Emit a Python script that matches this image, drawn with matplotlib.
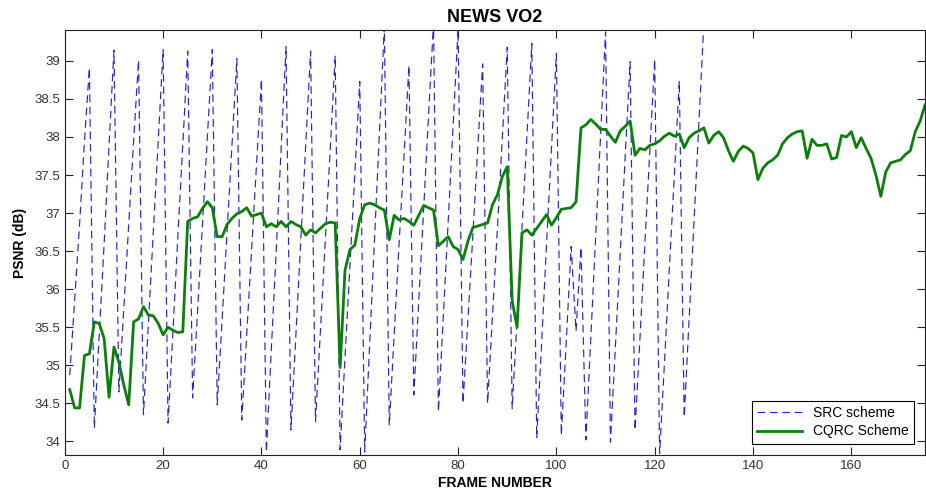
import matplotlib
matplotlib.use('Agg')
import matplotlib.pyplot as plt
from matplotlib.ticker import FormatStrFormatter, MultipleLocator
import numpy as np

plt.rcParams['font.family'] = ['Liberation Sans', 'DejaVu Sans']

# SRC scheme, frames 1..130 (5-frame cycles)
src_frames = np.arange(1, 131)
src_psnr = [
    34.87, 35.85, 36.85, 37.95, 38.91,
    34.17, 35.40, 36.60, 37.90, 39.14,
    34.65, 35.75, 36.85, 37.95, 39.01,
    34.35, 35.55, 36.75, 37.95, 39.15,
    34.24, 35.45, 36.70, 37.90, 39.13,
    34.57, 35.70, 36.85, 38.00, 39.15,
    34.48, 35.60, 36.75, 37.90, 39.03,
    34.28, 35.40, 36.50, 37.65, 38.76,
    33.86, 35.20, 36.50, 37.85, 39.19,
    34.15, 35.40, 36.65, 37.90, 39.13,
    34.26, 35.45, 36.65, 37.85, 39.07,
    33.89, 35.10, 36.30, 37.50, 38.73,
    33.86, 35.25, 36.65, 38.05, 39.45,
    34.21, 35.40, 36.60, 37.75, 38.94,
    34.61, 35.85, 37.05, 38.30, 39.50,
    34.39, 35.65, 36.90, 38.15, 39.42,
    34.50, 35.60, 36.70, 37.85, 38.96,
    34.50, 35.65, 36.80, 38.00, 39.18,
    34.43, 35.60, 36.80, 38.00, 39.23,
    34.04, 35.30, 36.60, 37.85, 39.10,
    34.08, 35.30, 36.56, 35.45, 36.55,
    34.02, 35.35, 36.70, 38.05, 39.38,
    33.99, 35.25, 36.50, 37.75, 38.99,
    34.15, 35.35, 36.60, 37.80, 39.02,
    33.84, 35.05, 36.30, 37.50, 38.74,
    34.32, 35.60, 36.90, 38.20, 39.50,
]

# CQRC scheme, frames 1..175
cqrc_frames = np.arange(1, 176)
cqrc_psnr = [
    34.68, 34.44, 34.44, 35.13, 35.15, 35.57, 35.55, 35.35, 34.58, 35.24,
    35.04, 34.74, 34.48, 35.57, 35.61, 35.77, 35.66, 35.65, 35.55, 35.40,
    35.50, 35.46, 35.43, 35.44, 36.89, 36.93, 36.95, 37.06, 37.15, 37.07,
    36.69, 36.69, 36.85, 36.93, 36.99, 37.02, 37.07, 36.96, 36.98, 37.00,
    36.82, 36.86, 36.82, 36.89, 36.82, 36.89, 36.85, 36.82, 36.71, 36.78,
    36.74, 36.80, 36.86, 36.88, 36.87, 34.97, 36.25, 36.52, 36.58, 36.93,
    37.11, 37.13, 37.11, 37.07, 37.04, 36.65, 36.97, 36.91, 36.93, 36.89,
    36.84, 36.97, 37.10, 37.07, 37.04, 36.57, 36.63, 36.69, 36.56, 36.52,
    36.39, 36.63, 36.81, 36.83, 36.85, 36.87, 37.11, 37.24, 37.48, 37.61,
    35.85, 35.50, 36.74, 36.78, 36.71, 36.80, 36.89, 36.98, 36.84, 36.94,
    37.05, 37.06, 37.07, 37.15, 38.12, 38.16, 38.23, 38.17, 38.10, 38.10,
    38.01, 37.93, 38.08, 38.14, 38.21, 37.76, 37.85, 37.83, 37.89, 37.91,
    37.95, 38.01, 38.05, 38.01, 38.04, 37.86, 37.99, 38.05, 38.08, 38.12,
    37.92, 38.02, 38.07, 37.99, 37.82, 37.68, 37.81, 37.88, 37.85, 37.79,
    37.44, 37.59, 37.66, 37.70, 37.76, 37.91, 37.99, 38.04, 38.07, 38.08,
    37.72, 37.97, 37.89, 37.89, 37.91, 37.71, 37.73, 38.02, 38.00, 38.07,
    37.86, 37.99, 37.85, 37.72, 37.50, 37.22, 37.54, 37.66, 37.68, 37.70,
    37.77, 37.82, 38.07, 38.21, 38.42,
]

fig = plt.figure(figsize=(9.26, 4.99), dpi=100)
ax = fig.add_axes([0.070, 0.088, 0.929, 0.851])

ax.plot(src_frames, src_psnr, color='#2424d0', linestyle=(0, (6.5, 4)),
        linewidth=0.85, label='SRC scheme')
ax.plot(cqrc_frames, cqrc_psnr, color='#0a7f0a', linewidth=2.0,
        label='CQRC Scheme')

ax.set_xlim(0, 175)
ax.set_ylim(33.82, 39.4)
ax.xaxis.set_major_locator(MultipleLocator(20))
ax.yaxis.set_major_locator(MultipleLocator(0.5))
ax.yaxis.set_major_formatter(FormatStrFormatter('%g'))
ax.tick_params(direction='in', top=True, right=True, length=6,
               labelsize=9.5, labelcolor='#333333', color='#222222')
for s in ax.spines.values():
    s.set_color('#222222')

ax.set_title('NEWS VO2', fontsize=13, fontweight='bold', pad=6)
ax.set_xlabel('FRAME NUMBER', fontsize=10, fontweight='bold', labelpad=3)
ax.set_ylabel('PSNR (dB)', fontsize=10, fontweight='bold', labelpad=5)

leg = ax.legend(loc='lower right', fontsize=10, fancybox=False,
                framealpha=1, edgecolor='black', handlelength=3.2,
                borderaxespad=0.8, borderpad=0.4, labelspacing=0.3)
leg.get_frame().set_linewidth(0.8)

fig.savefig('out.png', dpi=100)
